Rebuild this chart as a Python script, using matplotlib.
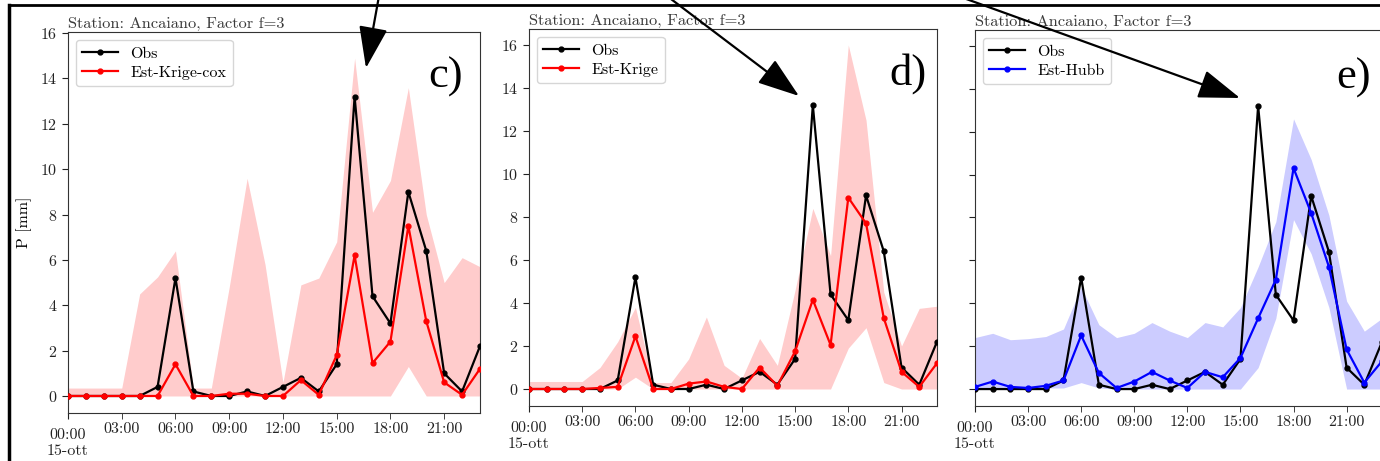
import matplotlib.pyplot as plt

plt.rcParams['font.family'] = ['cmr10', 'DejaVu Serif']
plt.rcParams['axes.formatter.use_mathtext'] = True

# hourly values, 15 October 00:00 .. 23:00
hours = list(range(24))
obs = [0, 0, 0, 0, 0, 0.4, 5.2, 0.2, 0, 0, 0.2, 0, 0.4, 0.8, 0.2, 1.4,
       13.2, 4.4, 3.2, 9.0, 6.4, 1.0, 0.2, 2.2]

krige_cox = [0, 0, 0, 0, 0, 0, 1.4, 0, 0, 0.1, 0.1, 0, 0, 0.7, 0.05, 1.8,
             6.2, 1.45, 2.4, 7.5, 3.3, 0.6, 0.05, 1.2]
krige_cox_lo = [0, 0, 0, 0, 0, 0, 0, 0, 0, 0, 0, 0, 0, 0, 0, 0,
                0, 0, 0, 1.3, 0, 0, 0, 0]
krige_cox_hi = [0.35, 0.35, 0.35, 0.35, 4.5, 5.25, 6.4, 0.35, 0.35, 4.8, 9.6, 5.8,
                0.6, 4.9, 5.2, 6.8, 14.9, 8.1, 9.5, 13.6, 8.0, 5.0, 6.1, 5.7]

krige = [0, 0, 0, 0, 0.05, 0.1, 2.45, 0, 0, 0.25, 0.35, 0.1, 0, 1.0, 0.15, 1.75,
         4.15, 2.05, 8.9, 7.7, 3.3, 0.8, 0.1, 1.2]
krige_lo = [0, 0, 0, 0, 0, 0, 0.55, 0, 0, 0, 0, 0, 0, 0, 0, 0,
            0, 0, 1.9, 2.85, 0.3, 0, 0, 0]
krige_hi = [0.35, 0.35, 0.35, 0.35, 1.0, 2.2, 3.8, 0.3, 0.3, 1.4, 3.35, 1.1,
            0.5, 2.35, 1.1, 4.6, 8.4, 6.2, 16.0, 12.5, 4.5, 2.0, 3.75, 3.85]

hubb = [0.1, 0.35, 0.1, 0.05, 0.15, 0.4, 2.5, 0.75, 0.05, 0.35, 0.8, 0.4, 0.05, 0.8,
        0.55, 1.45, 3.3, 5.1, 10.3, 8.2, 5.7, 1.85, 0.3, 1.3]
hubb_lo = [0, 0, 0, 0, 0.05, 0.05, 0.3, 0.05, 0, 0, 0, 0, 0, 0, 0, 0,
           1.0, 3.3, 7.9, 6.3, 3.8, 0, 0, 0]
hubb_hi = [2.4, 2.6, 2.3, 2.35, 2.45, 2.8, 4.75, 3.0, 2.4, 2.6, 3.1, 2.7, 2.4, 3.1,
           2.9, 3.8, 5.7, 7.8, 12.6, 10.7, 8.1, 4.1, 2.7, 3.3]

minor_hours = [3, 6, 9, 12, 15, 18, 21]
minor_labels = ['03:00', '06:00', '09:00', '12:00', '15:00', '18:00', '21:00']
title = 'Station: Ancaiano, Factor f=3'

W, H = 1380, 461
fig = plt.figure(figsize=(W / 100, H / 100), dpi=100)


def px_axes(left, right, top, bottom):
    return fig.add_axes([left / W, (H - bottom) / H, (right - left) / W, (bottom - top) / H])


def draw_panel(ax, est, lo, hi, color, label, ylim, ylabels=True):
    ax.fill_between(hours, lo, hi, color=color, alpha=0.2, lw=0, zorder=1)
    ax.plot(hours, obs, '-o', color='black', lw=1.6, ms=3.5, label='Obs', zorder=3)
    ax.plot(hours, est, '-o', color=color, lw=1.6, ms=3.5, label=label, zorder=4)
    ax.set_xlim(0, 23)
    ax.set_ylim(*ylim)
    ax.set_yticks(range(0, 17, 2))
    if not ylabels:
        ax.set_yticklabels([])
    ax.set_xticks([0])
    ax.set_xticklabels(['00:00\n15-ott'])
    ax.set_xticks(minor_hours, minor=True)
    ax.set_xticklabels(minor_labels, minor=True)
    ax.tick_params(axis='x', which='major', length=4, pad=7, labelsize=11.5, colors='#222222')
    ax.tick_params(axis='x', which='minor', length=4, pad=3, labelsize=11.5, colors='#222222')
    ax.tick_params(axis='y', length=4, labelsize=11.5, colors='#222222')
    for s in ax.spines.values():
        s.set_color('#333333')
    ax.set_title(title, loc='left', fontsize=11.8, color='#3a3a3a', pad=3)
    ax.legend(loc='upper left', fontsize=11.5, handlelength=2.2, framealpha=0.8,
              edgecolor='#cccccc', borderpad=0.4, labelspacing=0.3)


ax_c = px_axes(68, 480, 32, 413)
draw_panel(ax_c, krige_cox, krige_cox_lo, krige_cox_hi, 'red', 'Est-Krige-cox', (-0.75, 16.05))
ax_c.set_ylabel('P [mm]', fontsize=11.5, labelpad=6)

ax_d = px_axes(529, 937, 29, 406)
draw_panel(ax_d, krige, krige_lo, krige_hi, 'red', 'Est-Krige', (-0.79, 16.74))

ax_e = px_axes(975, 1382, 30, 406)
draw_panel(ax_e, hubb, hubb_lo, hubb_hi, 'blue', 'Est-Hubb', (-0.79, 16.74), ylabels=False)

# overlay in pixel coordinates for the frame, arrows and panel letters
ov = fig.add_axes([0, 0, 1, 1], zorder=10)
ov.set_xlim(0, W)
ov.set_ylim(H, 0)
ov.axis('off')
ov.patch.set_alpha(0)

ov.plot([9, W], [5, 5], color='black', lw=2)
ov.plot([9, 9], [5, H], color='black', lw=2.5)

arrows = [((379, -4), (366, 68)), ((667, -4), (799, 96)), ((958, -4), (1240, 98))]
for start, tip in arrows:
    ov.annotate('', xy=tip, xytext=start,
                arrowprops=dict(arrowstyle='-|>,head_length=1.3,head_width=0.45',
                                mutation_scale=20, color='black', lw=1.6,
                                shrinkA=0, shrinkB=0))

for txt, x, y in [('c)', 446, 88), ('d)', 908, 85), ('e)', 1354, 89)]:
    ov.text(x, y, txt, fontsize=32, family='Liberation Serif', ha='center', va='baseline')

fig.savefig('out.png', dpi=100)
